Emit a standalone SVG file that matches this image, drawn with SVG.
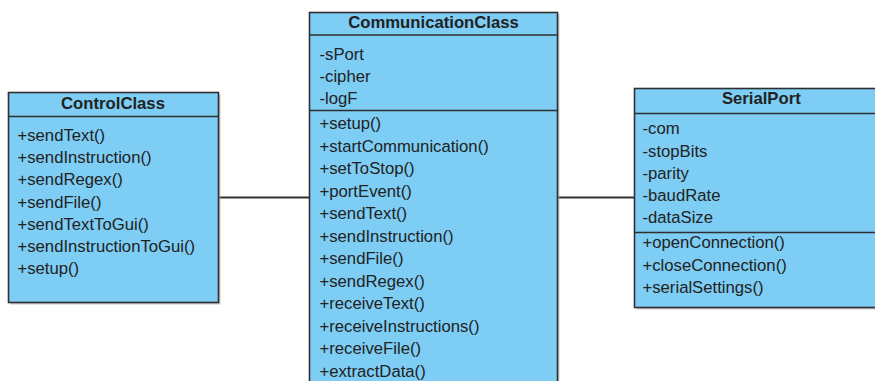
<svg xmlns="http://www.w3.org/2000/svg" width="875" height="381" viewBox="0 0 875 381">
  <style>
    .box { fill: #7dcdf4; stroke: #2f2f2f; stroke-width: 1.6; }
    .shadow { fill: #a9a9a9; opacity: 0.6; }
    .sep { stroke: #2f2f2f; stroke-width: 1.6; }
    .edge { stroke: #333333; stroke-width: 2; fill: none; }
    text { font-family: "Liberation Sans", Arial, sans-serif; font-size: 16.7px; fill: #222222; }
    .title { font-weight: bold; text-anchor: middle; }
  </style>
  <rect width="875" height="381" fill="#ffffff"/>

  <!-- associations between the classes -->
  <g id="connectors">
    <line class="edge" x1="218.5" y1="197.5" x2="309.5" y2="197.5"/>
    <line class="edge" x1="557.5" y1="197.5" x2="634.5" y2="197.5"/>
  </g>

  <g id="ControlClass">
    <rect class="shadow" x="10.5" y="94.5" width="210" height="210"/>
    <rect class="box" x="8.5" y="92.5" width="210" height="210"/>
    <line class="sep" x1="8.5" y1="116.5" x2="218.5" y2="116.5"/>
    <text class="title" x="113" y="109">ControlClass</text>
    <text x="17.5" y="141">+sendText()</text>
    <text x="17.5" y="163.2">+sendInstruction()</text>
    <text x="17.5" y="185.4">+sendRegex()</text>
    <text x="17.5" y="207.6">+sendFile()</text>
    <text x="17.5" y="229.8">+sendTextToGui()</text>
    <text x="17.5" y="252">+sendInstructionToGui()</text>
    <text x="17.5" y="274.2">+setup()</text>
  </g>

  <g id="CommunicationClass">
    <rect class="shadow" x="311.5" y="14.5" width="248" height="400"/>
    <rect class="box" x="309.5" y="12.5" width="248" height="400"/>
    <line class="sep" x1="309.5" y1="35" x2="557.5" y2="35"/>
    <line class="sep" x1="309.5" y1="110.5" x2="557.5" y2="110.5"/>
    <text class="title" x="433.5" y="27.5">CommunicationClass</text>
    <text x="319.5" y="60">-sPort</text>
    <text x="319.5" y="82.2">-cipher</text>
    <text x="319.5" y="104.4">-logF</text>
    <text x="319.5" y="129.3">+setup()</text>
    <text x="319.5" y="151.8">+startCommunication()</text>
    <text x="319.5" y="174.3">+setToStop()</text>
    <text x="319.5" y="196.8">+portEvent()</text>
    <text x="319.5" y="219.3">+sendText()</text>
    <text x="319.5" y="241.8">+sendInstruction()</text>
    <text x="319.5" y="264.3">+sendFile()</text>
    <text x="319.5" y="286.8">+sendRegex()</text>
    <text x="319.5" y="309.3">+receiveText()</text>
    <text x="319.5" y="331.8">+receiveInstructions()</text>
    <text x="319.5" y="354.3">+receiveFile()</text>
    <text x="319.5" y="376.8">+extractData()</text>
  </g>

  <g id="SerialPort">
    <rect class="shadow" x="636.5" y="90.5" width="253.5" height="219"/>
    <rect class="box" x="634.5" y="88.5" width="253.5" height="219"/>
    <line class="sep" x1="634.5" y1="113.5" x2="888" y2="113.5"/>
    <line class="sep" x1="634.5" y1="232.5" x2="888" y2="232.5"/>
    <text class="title" x="761.3" y="104">SerialPort</text>
    <text x="642.5" y="134.3">-com</text>
    <text x="642.5" y="156.5">-stopBits</text>
    <text x="642.5" y="178.8">-parity</text>
    <text x="642.5" y="201">-baudRate</text>
    <text x="642.5" y="223.3">-dataSize</text>
    <text x="642.5" y="248.3">+openConnection()</text>
    <text x="642.5" y="270.8">+closeConnection()</text>
    <text x="642.5" y="293.3">+serialSettings()</text>
  </g>
</svg>
